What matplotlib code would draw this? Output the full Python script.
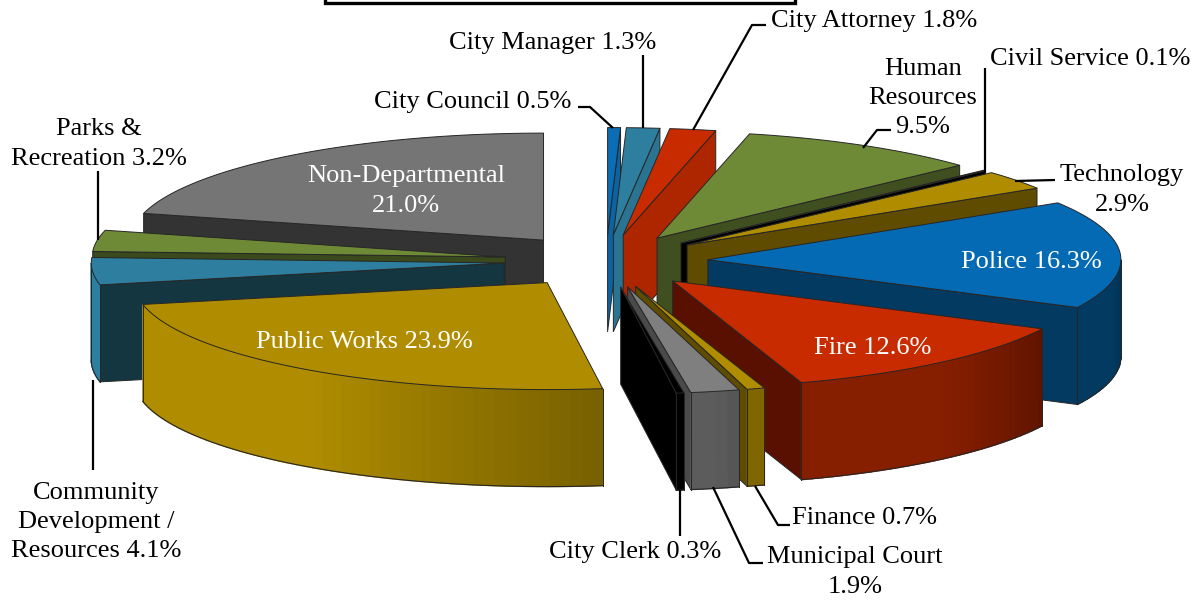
import numpy as np
import matplotlib
matplotlib.use("Agg")
import matplotlib.pyplot as plt
from matplotlib.colors import to_rgb
from matplotlib.patches import Polygon, Rectangle

plt.rcParams['font.family'] = ['Liberation Serif', 'DejaVu Serif']

departments = ["City Council", "City Manager", "City Attorney", "Human Resources", "Civil Service",
               "Technology", "Police", "Fire", "Finance", "Municipal Court", "City Clerk",
               "Public Works", "Community Development / Resources", "Parks & Recreation", "Non-Departmental"]
shares = [0.5, 1.3, 1.8, 9.5, 0.1, 2.9, 16.3, 12.6, 0.7, 1.9, 0.3, 23.9, 4.1, 3.2, 21.0]

top_colors = ["#0A6DB5", "#2E7F9F", "#C92B00", "#6F8A36", "#000000", "#B08D00", "#046AB4", "#C92B00",
              "#B08D00", "#7F7F7F", "#000000", "#B08D00", "#2E7F9F", "#6F8A36", "#757575"]
wall_colors = ["#0A63A3", "#2A7491", "#AE2600", "#3F4F1F", "#000000", "#5F4C00", "#033A61", "#5A1000",
               "#5F4C00", "#4A4A4A", "#000000", "#5F4C00", "#143641", "#3A4A1C", "#333333"]
outer_light = ["#0A6DB5", "#2E7F9F", "#C92B00", "#5C7230", "#000000", "#8A6F00", "#033A61", "#861E00",
               "#7F6600", "#5C5C5C", "#000000", "#B08D00", "#2E7F9F", "#6F8A36", "#757575"]
outer_dark = ["#0A6DB5", "#2E7F9F", "#C92B00", "#5C7230", "#000000", "#8A6F00", "#02304F", "#5F1400",
              "#756000", "#545454", "#000000", "#776000", "#2E7F9F", "#6F8A36", "#757575"]

# geometry of the tilted, exploded pie (pixel-like axes)
CX, CY = 606.0, 261.0
RX, RY = 413.0, 107.0
EXPLODE = 0.247
DEPTH = 97.0

fig = plt.figure(figsize=(11.98, 6.01), dpi=100)
ax = fig.add_axes([0, 0, 1, 1])
ax.set_xlim(0, 1198)
ax.set_ylim(601, 0)
ax.axis("off")

vals = np.array(shares, dtype=float)
edges = np.concatenate([[0], np.cumsum(vals)]) / vals.sum() * 360.0
EDGE = dict(edgecolor="#262626", linewidth=0.7, joinstyle="round")


def pt(ox, oy, r, deg):
    t = np.radians(deg)
    return ox + RX * r * np.sin(t), oy - RY * r * np.cos(t)


mids = (edges[:-1] + edges[1:]) / 2
order = np.argsort(-np.cos(np.radians(mids)))
for z, i in enumerate(order):
    a, b, m = edges[i], edges[i + 1], mids[i]
    ox, oy = pt(CX, CY, EXPLODE, m)
    za = 10 + z
    # radial wall facing the viewer
    for deg, visible in ((a, np.sin(np.radians(a)) < 0), (b, np.sin(np.radians(b)) > 0)):
        if visible:
            ex, ey = pt(ox, oy, 1, deg)
            ax.add_patch(Polygon([(ox, oy), (ex, ey), (ex, ey + DEPTH), (ox, oy + DEPTH)],
                                 closed=True, facecolor=wall_colors[i], zorder=za, **EDGE))
    # rim wall, front half only
    lo, hi = max(a, 90.0), min(b, 270.0)
    if hi > lo:
        steps = max(2, int((hi - lo) / 1.5) + 1)
        ts = np.linspace(lo, hi, steps)
        c0, c1 = np.array(to_rgb(outer_dark[i])), np.array(to_rgb(outer_light[i]))
        for j in range(steps - 1):
            f = min(1.0, (j + 0.5) / (steps - 1) / 0.5)
            col = c0 + (c1 - c0) * f
            p, q = pt(ox, oy, 1, ts[j]), pt(ox, oy, 1, ts[j + 1])
            ax.add_patch(Polygon([p, q, (q[0], q[1] + DEPTH), (p[0], p[1] + DEPTH)], closed=True,
                                 facecolor=col, edgecolor=col, linewidth=1.0, zorder=za))
        xs, ys = pt(ox, oy, 1, ts)
        ax.plot(xs, ys + DEPTH, color="#262626", lw=0.8, zorder=za)
        for d in (lo, hi):
            px, py = pt(ox, oy, 1, d)
            ax.plot([px, px], [py, py + DEPTH], color="#262626", lw=0.7, zorder=za)
    # top face
    ts = np.linspace(a, b, max(3, int(b - a) + 2))
    xs, ys = pt(ox, oy, 1, ts)
    ax.add_patch(Polygon(np.r_[[[ox, oy]], np.c_[xs, ys]], closed=True,
                         facecolor=top_colors[i], zorder=za, **EDGE))

# title box, cut by the upper edge
ax.add_patch(Rectangle((325, -20), 470, 22.5, facecolor="white", edgecolor="black", linewidth=2.4, zorder=40))

# leader lines
leaders = [
    [(578, 107), (590, 107), (613, 128)],
    [(643, 55), (643, 128)],
    [(766, 25), (752, 25), (693, 130)],
    [(891, 130), (877, 130), (863, 148)],
    [(985, 68), (985, 173)],
    [(1055, 180), (1015, 181)],
    [(98, 171), (98, 240)],
    [(93, 470), (93, 380)],
    [(680, 536), (680, 490)],
    [(763, 563), (749, 563), (713, 487)],
    [(790, 525), (778, 525), (755, 486)],
]
for line in leaders:
    xy = np.array(line)
    ax.plot(xy[:, 0], xy[:, 1], color="black", lw=1.6, zorder=50, solid_capstyle="butt")

FS = 19
labels = [
    ("City Council 0.5%", 473, 102, "black"),
    ("City Manager 1.3%", 553, 43, "black"),
    ("City Attorney 1.8%", 874, 21, "black"),
    ("Human\nResources\n9.5%", 923, 98, "black"),
    ("Civil Service 0.1%", 1090, 59, "black"),
    ("Technology\n2.9%", 1122, 190, "black"),
    ("Police 16.3%", 1031, 262, "white"),
    ("Non-Departmental\n21.0%", 406, 191, "white"),
    ("Public Works 23.9%", 364, 342, "white"),
    ("Fire 12.6%", 873, 348, "white"),
    ("Finance 0.7%", 865, 518, "black"),
    ("Municipal Court\n1.9%", 855, 572, "black"),
    ("City Clerk 0.3%", 635, 552, "black"),
    ("Community\nDevelopment /\nResources 4.1%", 96, 522, "black"),
    ("Parks &\nRecreation 3.2%", 99, 144, "black"),
]
for text, x, y, color in labels:
    ax.text(x, y, text, ha="center", va="center", color=color, fontsize=FS, linespacing=1.43, zorder=60)

fig.savefig("out.png", dpi=100)
